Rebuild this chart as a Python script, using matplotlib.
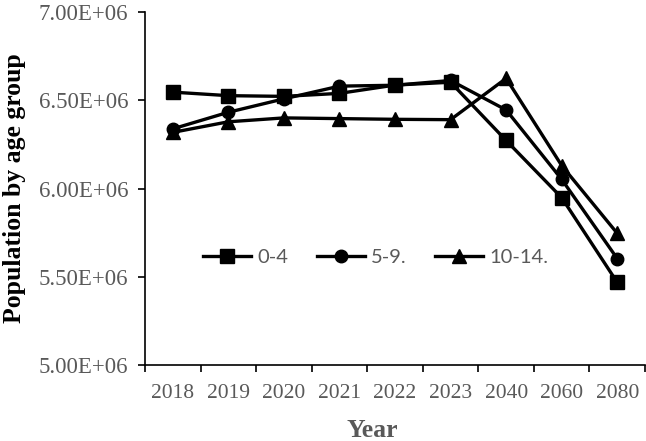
import matplotlib
matplotlib.use("Agg")
import matplotlib.pyplot as plt

years = ["2018", "2019", "2020", "2021", "2022", "2023", "2040", "2060", "2080"]
age_0_4 = [6.546e6, 6.526e6, 6.522e6, 6.539e6, 6.586e6, 6.602e6, 6.272e6, 5.948e6, 5.468e6]
age_5_9 = [6.338e6, 6.432e6, 6.508e6, 6.580e6, 6.585e6, 6.612e6, 6.445e6, 6.052e6, 5.603e6]
age_10_14 = [6.318e6, 6.378e6, 6.400e6, 6.396e6, 6.392e6, 6.390e6, 6.624e6, 6.130e6, 5.746e6]
series_labels = ["0-4", "5-9.", "10-14."]
yticks = [5.0e6, 5.5e6, 6.0e6, 6.5e6, 7.0e6]

fig = plt.figure(figsize=(6.46, 4.41), dpi=100)
ax = fig.add_axes([0.2245, 0.1723, 0.774, 0.8005])

x = list(range(len(years)))
markers = ["s", "o", "^"]
sizes = [9.5, 9.0, 9.5]
for vals, lab, m, ms in zip([age_0_4, age_5_9, age_10_14], series_labels, markers, sizes):
    ax.plot(x, vals, color="black", lw=2.4, marker=m, markersize=ms, label=lab)

ax.set_xlim(-0.5, len(years) - 0.5)
ax.set_ylim(5.0e6, 7.0e6)
ax.set_xticks([i - 0.5 for i in range(len(years) + 1)], minor=False)
ax.set_xticklabels([])
ax.set_xticks(x, minor=True)
ax.set_xticklabels(years, minor=True)
ax.tick_params(axis="x", which="major", direction="out", length=5, width=1.2, color="black")
ax.tick_params(axis="x", which="minor", length=0, pad=14,
               labelsize=15.5, labelcolor="#595959", labelfontfamily="Liberation Serif")
ax.set_yticks(yticks)
ax.set_yticklabels(["%.2fE+06" % (v / 1e6) for v in yticks],
                   fontsize=16.5, color="#595959", family="Liberation Serif")
ax.tick_params(axis="y", direction="out", length=5, width=1.2, color="black", pad=7)

for s in ["top", "right"]:
    ax.spines[s].set_visible(False)
for s in ["left", "bottom"]:
    ax.spines[s].set_linewidth(1.2)
    ax.spines[s].set_color("black")

ax.set_xlabel("Year", fontsize=18.5, fontweight="bold", family="Liberation Serif",
              color="#595959")
ax.xaxis.set_label_coords((372 - 145) / 500, -(430 - 365) / 353)
ax.xaxis.label.set_va("center")
ax.set_ylabel("Population by age group", fontsize=18.5, fontweight="bold",
              family="Liberation Serif", color="black")
ax.yaxis.set_label_coords(-(145 - 14) / 500, 0.5)
ax.yaxis.label.set_va("center")

leg = ax.legend(ncol=3, frameon=False, loc="center",
                bbox_to_anchor=((375.5 - 145) / 500, 1 - (257 - 12) / 353),
                prop={"family": "Lato", "size": 14.5}, handlelength=2.4,
                handletextpad=0.3, columnspacing=1.4, borderaxespad=0)
for t in leg.get_texts():
    t.set_color("#595959")

fig.savefig("out.png", dpi=100)
